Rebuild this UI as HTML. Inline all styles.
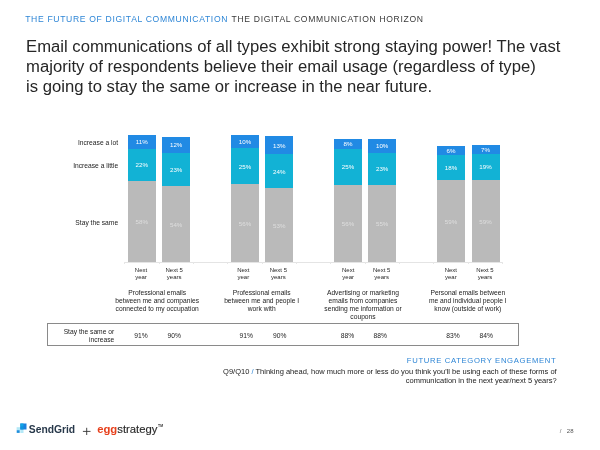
<!DOCTYPE html>
<html lang="en"><head><meta charset="utf-8"><title>The Future of Digital Communication</title>
<style>
html,body{margin:0;padding:0;background:#fff;}
body{width:600px;height:450px;position:relative;overflow:hidden;filter:blur(0.5px);font-family:"Liberation Sans",Arial,Helvetica,sans-serif;color:#222;}
.a{position:absolute;white-space:nowrap;}
.hdr{top:14.2px;font-size:8.6px;letter-spacing:0.66px;line-height:11px;}
.title{left:26.1px;top:36.9px;font-size:16.65px;line-height:20.0px;color:#262626;}
.seg{position:absolute;}
.v{position:absolute;left:0;width:100%;text-align:center;color:#fff;font-size:6.2px;line-height:8px;}
.yl{right:481.9px;font-size:6.7px;line-height:8px;color:#222;text-align:right;}
.xl{font-size:6px;line-height:7.6px;text-align:center;color:#262626;width:40px;}
.cat{font-size:6.7px;line-height:8.0px;text-align:center;color:#222;width:110px;}
.tv{font-size:6.7px;line-height:8px;color:#222;width:30px;text-align:center;top:331.9px;}
</style></head><body>
<div class="a hdr" style="left:25.2px;color:#2e86d6;">THE FUTURE OF DIGITAL COMMUNICATION</div>
<div class="a hdr" style="left:231.6px;color:#3a3a3a;">THE DIGITAL COMMUNICATION HORIZON</div>
<div class="a title">Email communications of all types exhibit strong staying power! The vast<br>majority of respondents believe their email usage (regardless of type)<br>is going to stay the same or increase in the near future.</div>

<div class="a yl" style="top:139.3px;">Increase a lot</div>
<div class="a yl" style="top:161.5px;">Increase a little</div>
<div class="a yl" style="top:219.0px;">Stay the same</div>
<div class="a" style="left:124.4px;top:261.9px;width:378.6px;height:0.9px;background:#e4e4e4;"></div>
<div class="a" style="left:124.1px;top:262px;width:1px;height:2px;background:#e6e6e6;"></div>
<div class="a" style="left:158.5px;top:262px;width:1px;height:2px;background:#e6e6e6;"></div>
<div class="a" style="left:192.8px;top:262px;width:1px;height:2px;background:#e6e6e6;"></div>
<div class="a" style="left:227.2px;top:262px;width:1px;height:2px;background:#e6e6e6;"></div>
<div class="a" style="left:261.6px;top:262px;width:1px;height:2px;background:#e6e6e6;"></div>
<div class="a" style="left:295.9px;top:262px;width:1px;height:2px;background:#e6e6e6;"></div>
<div class="a" style="left:330.3px;top:262px;width:1px;height:2px;background:#e6e6e6;"></div>
<div class="a" style="left:364.7px;top:262px;width:1px;height:2px;background:#e6e6e6;"></div>
<div class="a" style="left:399.1px;top:262px;width:1px;height:2px;background:#e6e6e6;"></div>
<div class="a" style="left:433.4px;top:262px;width:1px;height:2px;background:#e6e6e6;"></div>
<div class="a" style="left:467.8px;top:262px;width:1px;height:2px;background:#e6e6e6;"></div>
<div class="a" style="left:502.2px;top:262px;width:1px;height:2px;background:#e6e6e6;"></div>
<div class="seg" style="left:127.8px;top:134.6px;width:28.0px;height:127.4px;background:#bababa;"><div class="seg" style="left:0;top:0;width:100%;height:46.0px;background:#12b2d5;"></div><div class="seg" style="left:0;top:0;width:100%;height:14.7px;background:#218ae4;"></div><div class="v" style="top:3.8px;">11%</div><div class="v" style="top:26.8px;">22%</div><div class="v" style="top:83.4px;color:#dedede;">58%</div></div>
<div class="seg" style="left:162.2px;top:136.8px;width:28.0px;height:125.2px;background:#bababa;"><div class="seg" style="left:0;top:0;width:100%;height:49.4px;background:#12b2d5;"></div><div class="seg" style="left:0;top:0;width:100%;height:16.5px;background:#218ae4;"></div><div class="v" style="top:4.7px;">12%</div><div class="v" style="top:29.3px;">23%</div><div class="v" style="top:84.0px;color:#dedede;">54%</div></div>
<div class="seg" style="left:231.0px;top:134.7px;width:28.0px;height:127.3px;background:#bababa;"><div class="seg" style="left:0;top:0;width:100%;height:49.5px;background:#12b2d5;"></div><div class="seg" style="left:0;top:0;width:100%;height:13.8px;background:#218ae4;"></div><div class="v" style="top:3.3px;">10%</div><div class="v" style="top:28.1px;">25%</div><div class="v" style="top:85.1px;color:#dedede;">56%</div></div>
<div class="seg" style="left:265.3px;top:136.2px;width:28.0px;height:125.8px;background:#bababa;"><div class="seg" style="left:0;top:0;width:100%;height:51.9px;background:#12b2d5;"></div><div class="seg" style="left:0;top:0;width:100%;height:18.3px;background:#218ae4;"></div><div class="v" style="top:5.6px;">13%</div><div class="v" style="top:31.5px;">24%</div><div class="v" style="top:85.6px;color:#dedede;">53%</div></div>
<div class="seg" style="left:334.0px;top:138.6px;width:28.0px;height:123.4px;background:#bababa;"><div class="seg" style="left:0;top:0;width:100%;height:46.3px;background:#12b2d5;"></div><div class="seg" style="left:0;top:0;width:100%;height:10.3px;background:#218ae4;"></div><div class="v" style="top:1.6px;">8%</div><div class="v" style="top:24.7px;">25%</div><div class="v" style="top:81.6px;color:#dedede;">56%</div></div>
<div class="seg" style="left:368.2px;top:139.3px;width:28.0px;height:122.7px;background:#bababa;"><div class="seg" style="left:0;top:0;width:100%;height:46.2px;background:#12b2d5;"></div><div class="seg" style="left:0;top:0;width:100%;height:13.5px;background:#218ae4;"></div><div class="v" style="top:3.1px;">10%</div><div class="v" style="top:26.2px;">23%</div><div class="v" style="top:81.1px;color:#dedede;">55%</div></div>
<div class="seg" style="left:437.0px;top:146.2px;width:28.0px;height:115.8px;background:#bababa;"><div class="seg" style="left:0;top:0;width:100%;height:33.5px;background:#12b2d5;"></div><div class="seg" style="left:0;top:0;width:100%;height:9.1px;background:#218ae4;"></div><div class="v" style="top:1.0px;">6%</div><div class="v" style="top:17.7px;">18%</div><div class="v" style="top:71.4px;color:#dedede;">59%</div></div>
<div class="seg" style="left:471.5px;top:144.5px;width:28.0px;height:117.5px;background:#bababa;"><div class="seg" style="left:0;top:0;width:100%;height:35.2px;background:#12b2d5;"></div><div class="seg" style="left:0;top:0;width:100%;height:9.2px;background:#218ae4;"></div><div class="v" style="top:1.0px;">7%</div><div class="v" style="top:18.6px;">19%</div><div class="v" style="top:73.0px;color:#dedede;">59%</div></div>
<div class="a xl" style="left:121.0px;top:266.7px;">Next<br>year</div>
<div class="a xl" style="left:154.2px;top:266.7px;">Next 5<br>years</div>
<div class="a xl" style="left:223.3px;top:266.7px;">Next<br>year</div>
<div class="a xl" style="left:258.3px;top:266.7px;">Next 5<br>years</div>
<div class="a xl" style="left:328.2px;top:266.7px;">Next<br>year</div>
<div class="a xl" style="left:361.7px;top:266.7px;">Next 5<br>years</div>
<div class="a xl" style="left:430.8px;top:266.7px;">Next<br>year</div>
<div class="a xl" style="left:465.0px;top:266.7px;">Next 5<br>years</div>
<div class="a cat" style="left:102.2px;top:288.9px;">Professional emails<br>between me and companies<br>connected to my occupation</div>
<div class="a cat" style="left:206.7px;top:288.9px;">Professional emails<br>between me and people I<br>work with</div>
<div class="a cat" style="left:308.0px;top:288.9px;">Advertising or marketing<br>emails from companies<br>sending me information or<br>coupons</div>
<div class="a cat" style="left:412.8px;top:288.9px;">Personal emails between<br>me and individual people I<br>know (outside of work)</div>
<div class="a" style="left:46.8px;top:323px;width:470.6px;height:21.4px;border:1px solid #8a8a8a;box-sizing:content-box;"></div>
<div class="a" style="right:485.8px;top:327.5px;font-size:6.7px;line-height:8px;text-align:right;color:#222;">Stay the same or<br>increase</div>
<div class="a tv" style="left:126.0px;">91%</div>
<div class="a tv" style="left:159.3px;">90%</div>
<div class="a tv" style="left:231.3px;">91%</div>
<div class="a tv" style="left:264.7px;">90%</div>
<div class="a tv" style="left:332.5px;">88%</div>
<div class="a tv" style="left:365.3px;">88%</div>
<div class="a tv" style="left:438.0px;">83%</div>
<div class="a tv" style="left:471.2px;">84%</div>
<div class="a" style="right:43.6px;top:355.5px;font-size:7.7px;letter-spacing:0.66px;line-height:9px;color:#2e86d6;">FUTURE CATEGORY ENGAGEMENT</div>
<div class="a" style="right:43.3px;top:366.6px;font-size:7.5px;line-height:9px;text-align:right;color:#222;">Q9/Q10 <span style="color:#2e86d6;">/</span> Thinking ahead, how much more or less do you think you'll be using each of these forms of<br>communication in the next year/next 5 years?</div>
<svg class="a" style="left:16px;top:422.5px;" width="12" height="11" viewBox="0 0 12 11">
<rect x="0.6" y="4.2" width="3.7" height="3.0" fill="#b4e8f7"/>
<rect x="4.3" y="6.5" width="3.2" height="3.5" fill="#b4e8f7"/>
<rect x="0.7" y="7.2" width="3.0" height="2.7" fill="#1f8fdc"/>
<rect x="4.3" y="0.5" width="6.2" height="6.0" fill="#1a80de"/>
<rect x="4.3" y="0.5" width="3.2" height="3.2" fill="#10a4e6"/>
<rect x="4.3" y="3.7" width="3.2" height="2.8" fill="#0d95dd"/>
</svg>
<div class="a" style="left:28.8px;top:422.7px;font-size:10.3px;line-height:13px;font-weight:bold;color:#27384a;letter-spacing:0px;">SendGrid</div>
<svg class="a" style="left:81.8px;top:427.3px;" width="10" height="9" viewBox="0 0 10 9"><path d="M4.7 0.8V8M0.9 4.4H8.5" stroke="#333" stroke-width="0.9" fill="none"/></svg>
<div class="a" style="left:97.2px;top:421.9px;font-size:11.3px;line-height:14px;color:#2b2b2b;"><b style="color:#e7401c;">egg</b><span style="-webkit-text-stroke:0.15px #2b2b2b;">strategy</span><span style="font-size:3.4px;position:relative;top:-5.6px;left:0.6px;font-weight:bold;">TM</span></div>
<div class="a" style="left:559.8px;top:427.0px;font-size:6px;line-height:8px;color:#6a6a6a;">/</div>
<div class="a" style="left:566.8px;top:427.0px;font-size:6px;line-height:8px;color:#555;">28</div>
</body></html>
